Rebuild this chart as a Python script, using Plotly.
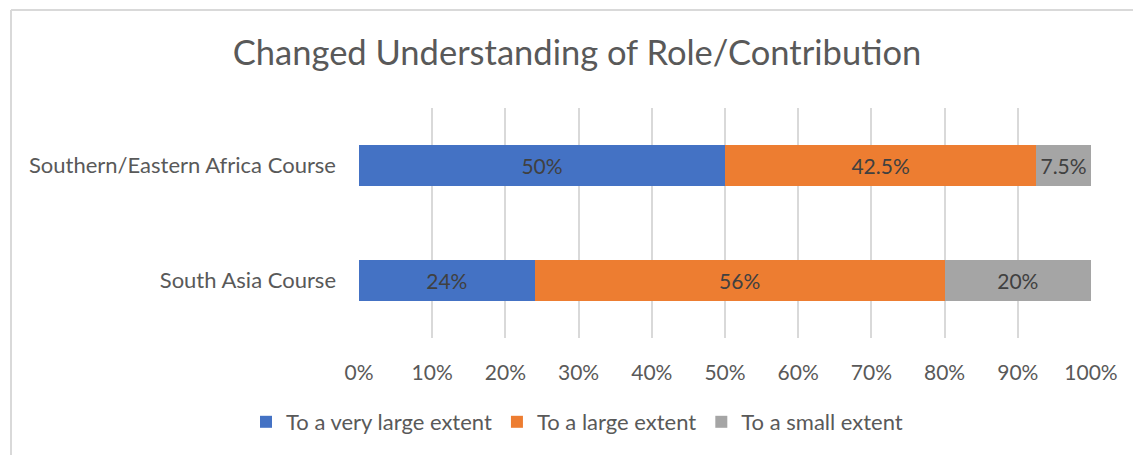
import plotly.graph_objects as go

categories = ["South Asia Course", "Southern/Eastern Africa Course"]
series_names = ["To a very large extent", "To a large extent", "To a small extent"]
very_large = [24, 50]
large = [56, 42.5]
small = [20, 7.5]
very_large_labels = ["24%", "50%"]
large_labels = ["56%", "42.5%"]
small_labels = ["20%", "7.5%"]
colors = ["#4472C4", "#ED7D31", "#A5A5A5"]
x_ticks = list(range(0, 101, 10))
x_tick_labels = [f"{v}%" for v in x_ticks]

FONT = "Lato"
fig = go.Figure()
for name, vals, labs, col in zip(series_names, [very_large, large, small],
                                 [very_large_labels, large_labels, small_labels], colors):
    fig.add_trace(go.Bar(
        y=categories, x=vals, name=name, orientation="h",
        marker=dict(color=col, line=dict(width=0)),
        text=labs, texttemplate="%{text}", textposition="inside", insidetextanchor="middle",
        textfont=dict(family=FONT, size=21, color="#404040"),
        constraintext="none",
    ))

L, R, T, B = 359, 42, 108, 117
W, H = 1133, 455
pw, ph = W - L - R, H - T - B

fig.update_layout(
    barmode="stack", bargap=0.643,
    width=W, height=H,
    margin=dict(l=L, r=R, t=T, b=B, pad=0),
    paper_bgcolor="white", plot_bgcolor="white",
    title=dict(text="Changed Understanding of Role/Contribution", x=577 / W, xanchor="center",
               y=1 - 53 / H, yanchor="middle",
               font=dict(family=FONT, size=34.5, color="#595959")),
    font=dict(family=FONT, size=21, color="#595959"),
    legend=dict(orientation="h", x=(577 - L) / pw, xanchor="center",
                y=-(422 - (T + ph)) / ph, yanchor="middle",
                font=dict(family=FONT, size=22, color="#595959"),
                traceorder="normal", itemwidth=30),
    xaxis=dict(range=[0, 100], tickvals=x_ticks, ticktext=x_tick_labels,
               showgrid=True, gridcolor="#D9D9D9", gridwidth=2,
               zeroline=False, showline=False, ticks="", ticklabelstandoff=20,
               tickfont=dict(family=FONT, size=21, color="#595959")),
    yaxis=dict(showgrid=False, zeroline=False, showline=False, ticks="",
               ticklabelstandoff=22,
               tickfont=dict(family=FONT, size=22, color="#595959")),
    showlegend=True,
)

x_left = (11 - L) / pw
x_right = (W - L) / pw
y_top = 1 + (T - 10) / ph
y_bot = -(H - T - ph) / ph
fig.add_shape(type="line", xref="paper", yref="paper", x0=x_left, x1=x_left, y0=y_bot, y1=y_top,
              line=dict(color="#D9D9D9", width=2))
fig.add_shape(type="line", xref="paper", yref="paper", x0=x_left, x1=x_right, y0=y_top, y1=y_top,
              line=dict(color="#D9D9D9", width=2))

fig.write_html("out.html", config={"displayModeBar": False},
               post_script="document.body.style.margin='0';document.body.style.overflow='hidden';")
